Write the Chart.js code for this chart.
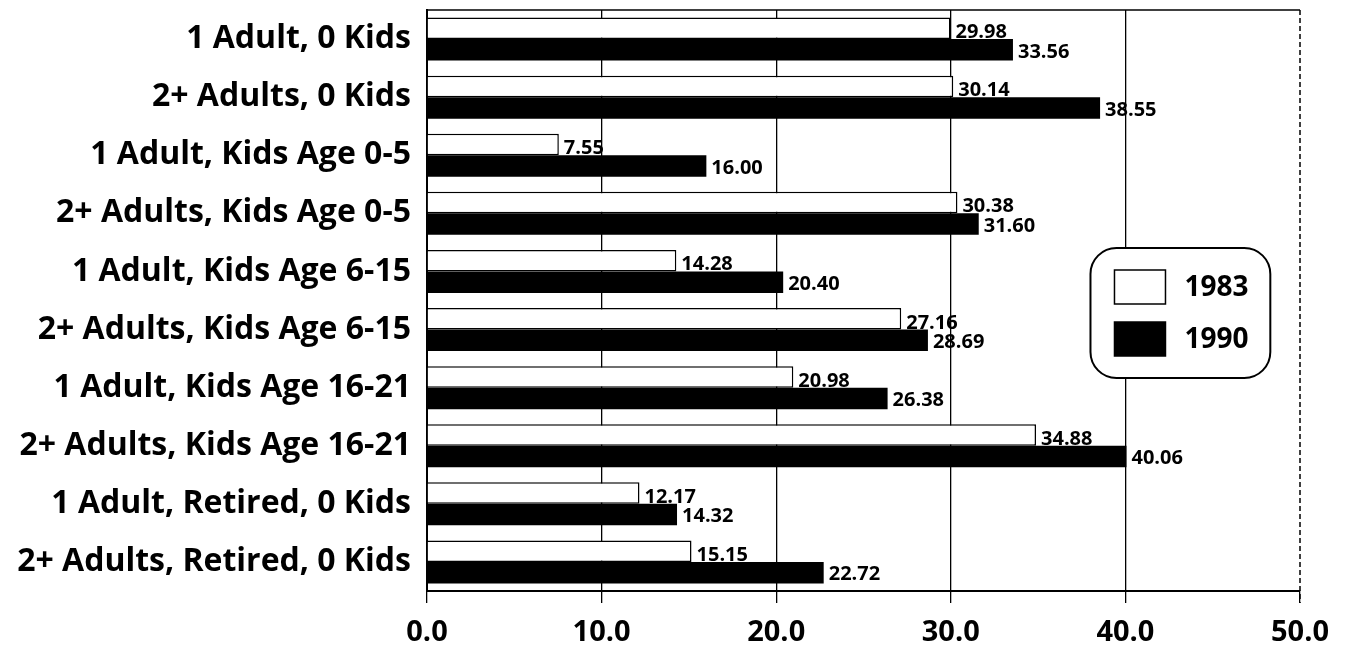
<!DOCTYPE html>
<html>
<head>
<meta charset="utf-8">
<script src="https://cdn.jsdelivr.net/npm/chart.js@4.4.1/dist/chart.umd.min.js"></script>
<style>
html,body{margin:0;padding:0;background:#fff;}
#wrap{width:1346px;height:650px;}
</style>
</head>
<body>
<div id="wrap"><canvas id="c" width="1346" height="650"></canvas></div>
<script>
const categories = [
  "1 Adult, 0 Kids",
  "2+ Adults, 0 Kids",
  "1 Adult, Kids Age 0-5",
  "2+ Adults, Kids Age 0-5",
  "1 Adult, Kids Age 6-15",
  "2+ Adults, Kids Age 6-15",
  "1 Adult, Kids Age 16-21",
  "2+ Adults, Kids Age 16-21",
  "1 Adult, Retired, 0 Kids",
  "2+ Adults, Retired, 0 Kids"
];
const seriesNames = ["1983", "1990"];
const values1983 = [29.98, 30.14, 7.55, 30.38, 14.28, 27.16, 20.98, 34.88, 12.17, 15.15];
const values1990 = [33.56, 38.55, 16.00, 31.60, 20.40, 28.69, 26.38, 40.06, 14.32, 22.72];
const xMin = 0, xMax = 50, xStep = 10;

const FONT = "'Open Sans', 'DejaVu Sans', sans-serif";

const framePlugin = {
  id: 'frame',
  beforeDatasetsDraw(chart) {
    const {ctx, chartArea: a} = chart;
    ctx.save();
    ctx.strokeStyle = '#000';
    ctx.lineWidth = 1.5;
    ctx.beginPath();
    ctx.moveTo(a.left, a.top);
    ctx.lineTo(a.right, a.top);
    ctx.stroke();
    ctx.setLineDash([5, 3]);
    ctx.beginPath();
    ctx.moveTo(a.right, a.top);
    ctx.lineTo(a.right, a.bottom + 12);
    ctx.stroke();
    ctx.restore();
  }
};

const labelPlugin = {
  id: 'valueLabels',
  afterDatasetsDraw(chart) {
    const ctx = chart.ctx;
    ctx.save();
    ctx.fillStyle = '#000';
    ctx.font = "bold 20px " + FONT;
    ctx.textAlign = 'left';
    ctx.textBaseline = 'middle';
    chart.data.datasets.forEach((ds, di) => {
      const meta = chart.getDatasetMeta(di);
      meta.data.forEach((el, i) => {
        const v = ds.data[i];
        ctx.fillText(v.toFixed(2), el.x + 5, el.y + (di === 0 ? 4 : 2));
      });
    });
    ctx.restore();
  }
};

const legendPlugin = {
  id: 'boxLegend',
  afterDraw(chart) {
    const ctx = chart.ctx;
    const xs = chart.scales.x;
    const x0 = xs.getPixelForValue(38.0), x1 = xs.getPixelForValue(48.3);
    const y0 = 248, y1 = 378, r = 26;
    ctx.save();
    ctx.beginPath();
    ctx.roundRect(x0, y0, x1 - x0, y1 - y0, r);
    ctx.fillStyle = '#fff';
    ctx.fill();
    ctx.lineWidth = 2;
    ctx.strokeStyle = '#000';
    ctx.stroke();
    const items = chart.data.datasets;
    const rowsY = [287, 339];
    items.forEach((ds, i) => {
      const cy = rowsY[i];
      const sx = x0 + 24, sw = 51, sh = 34;
      ctx.fillStyle = ds.backgroundColor;
      ctx.fillRect(sx, cy - sh / 2, sw, sh);
      ctx.lineWidth = 1.5;
      ctx.strokeStyle = '#000';
      ctx.strokeRect(sx, cy - sh / 2, sw, sh);
      ctx.fillStyle = '#000';
      ctx.font = "bold 28px " + FONT;
      ctx.textAlign = 'left';
      ctx.textBaseline = 'middle';
      ctx.fillText(ds.label, sx + sw + 19, cy + 1);
    });
    ctx.restore();
  }
};

new Chart(document.getElementById('c'), {
  type: 'bar',
  data: {
    labels: categories,
    datasets: [
      { label: seriesNames[0], data: values1983, backgroundColor: '#ffffff', borderColor: '#000', borderWidth: 1.5, borderSkipped: 'left' },
      { label: seriesNames[1], data: values1990, backgroundColor: '#000000', borderColor: '#000', borderWidth: 0 }
    ]
  },
  options: {
    indexAxis: 'y',
    responsive: false,
    animation: false,
    events: [],
    datasets: { bar: { categoryPercentage: 0.74, barPercentage: 1.0 } },
    layout: { padding: { top: 10, right: 46, left: 0, bottom: 0 } },
    plugins: { legend: { display: false }, tooltip: { enabled: false } },
    scales: {
      x: {
        min: xMin, max: xMax,
        ticks: {
          stepSize: xStep,
          color: '#000',
          font: { family: FONT, size: 29, weight: 'bold' },
          padding: 12,
          callback: v => Number(v).toFixed(1)
        },
        grid: {
          color: ctx => (ctx.tick && ctx.tick.value === xMax) ? 'rgba(0,0,0,0)' : '#000',
          lineWidth: 1.3,
          drawTicks: true,
          tickLength: 12,
          tickColor: '#000'
        },
        border: { display: true, color: '#000', width: 2 },
        afterFit: s => { s.height = 650 - 591; s.paddingLeft = 0; s.paddingRight = 0; }
      },
      y: {
        ticks: {
          color: '#000',
          font: { family: FONT, size: 32, weight: 'bold' },
          padding: 16,
          autoSkip: false
        },
        grid: { display: false, drawTicks: false },
        border: { display: true, color: '#000', width: 2 },
        afterFit: s => { s.width = 427; s.paddingTop = 0; s.paddingBottom = 0; }
      }
    }
  },
  plugins: [framePlugin, labelPlugin, legendPlugin]
});
</script>
</body>
</html>
